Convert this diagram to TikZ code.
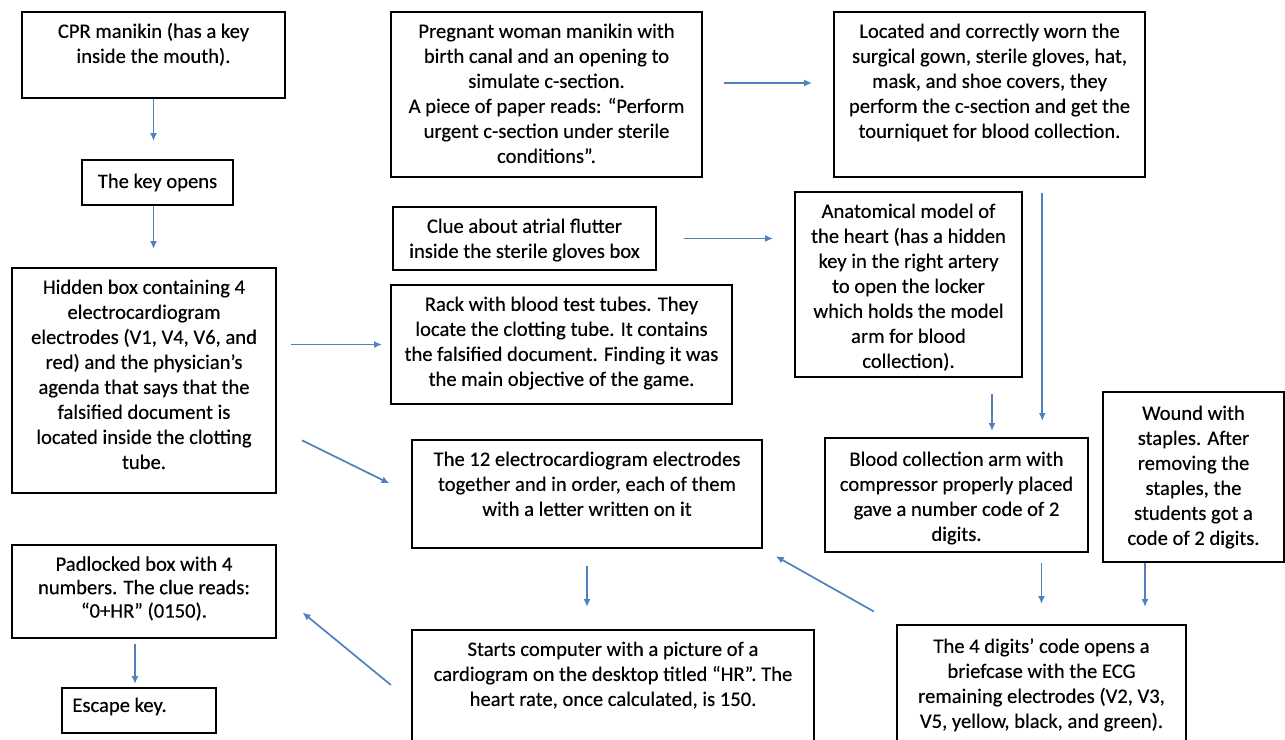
\documentclass[tikz,border=0pt]{standalone}
\usepackage{fontspec}
\setmainfont[BoldFont=Carlito,BoldFeatures={FakeBold=0.3}]{Carlito}
\usepackage{xcolor}
\definecolor{arrblue}{RGB}{79,129,189}
\usetikzlibrary{arrows.meta}
\tikzset{
card/.style={draw,line width=1pt,inner sep=0pt,font=\fontsize{10.3}{12.5}\selectfont\bfseries},
cardtext/.style={anchor=north,align=center,inner sep=0pt,yshift=-4.5pt,font=\fontsize{10.3}{12.5}\selectfont\bfseries},
flow/.style={arrblue,line width=0.85pt,-{Latex[length=4pt,width=3.5pt]}}
}

\begin{document}
\begin{tikzpicture}[x=0.5pt,y=-0.5pt]
\useasboundingbox (0,0) rectangle (1285,739);
\node[card,minimum width=131.5pt,minimum height=43pt,label={[cardtext]north:{\strut CPR manikin (has a key\\inside the mouth).}}] (cpr) at (153.5,55) {};
\node[card,minimum width=75.5pt,minimum height=22.5pt] (keyopens) at (157.5,182.5) {The key opens};
\node[card,minimum width=132pt,minimum height=112.5pt,label={[cardtext]north:{\strut Hidden box containing 4\\electrocardiogram\\electrodes (V1, V4, V6, and\\red) and the physician’s\\agenda that says that the\\falsified document is\\located inside the clotting\\tube.}}] (hidden) at (144,380.5) {};
\node[card,minimum width=132pt,minimum height=46.5pt,label={[cardtext,font=\fontsize{10.3}{11.7}\selectfont\bfseries,yshift=-0.5pt]north:{\strut Padlocked box with 4\\numbers. The clue reads:\\“0+HR” (0150).}}] (padlock) at (144,591.5) {};
\node[card,minimum width=77pt,minimum height=22.5pt,label={[cardtext,anchor=north west,xshift=5.5pt,yshift=1pt]north west:{\strut Escape key.}}] (escape) at (139,710.5) {};
\node[card,minimum width=155.5pt,minimum height=82.5pt,label={[cardtext]north:{\strut Pregnant woman manikin with\\birth canal and an opening to\\simulate c-section.\\A piece of paper reads: “Perform\\urgent c-section under sterile\\conditions”.}}] (pregnant) at (546.5,94.5) {};
\node[card,minimum width=131.5pt,minimum height=31.5pt,label={[cardtext]north:{\strut Clue about atrial flutter\\inside the sterile gloves box}}] (cluebox) at (524.5,238.5) {};
\node[card,minimum width=170.5pt,minimum height=59.5pt,label={[cardtext]north:{\strut Rack with blood test tubes. They\\locate the clotting tube. It contains\\the falsified document. Finding it was\\the main objective of the game.}}] (rack) at (561.5,344.5) {};
\node[card,minimum width=175pt,minimum height=54pt,label={[cardtext]north:{\strut The 12 electrocardiogram electrodes\\together and in order, each of them\\with a letter written on it}}] (twelve) at (587,494) {};
\node[card,minimum width=201pt,minimum height=59pt,label={[cardtext]north:{\strut Starts computer with a picture of a\\cardiogram on the desktop titled “HR”. The\\heart rate, once calculated, is 150.}}] (computer) at (613,689) {};
\node[card,minimum width=155.5pt,minimum height=82.5pt,label={[cardtext]north:{\strut Located and correctly worn the\\surgical gown, sterile gloves, hat,\\mask, and shoe covers, they\\perform the c-section and get the\\tourniquet for blood collection.}}] (located) at (989.5,94.5) {};
\node[card,minimum width=113.5pt,minimum height=92.5pt,label={[cardtext]north:{\strut Anatomical model of\\the heart (has a hidden\\key in the right artery\\to open the locker\\which holds the model\\arm for blood\\collection).}}] (anatomy) at (908.5,284.5) {};
\node[card,minimum width=131.5pt,minimum height=57pt,label={[cardtext,yshift=-1pt]north:{\strut Blood collection arm with\\compressor properly placed\\gave a number code of 2\\digits.}}] (bloodarm) at (956.5,495) {};
\node[card,minimum width=90.5pt,minimum height=85pt,label={[cardtext,yshift=-1pt]north:{\strut Wound with\\staples. After\\removing the\\staples, the\\students got a\\code of 2 digits.}}] (wound) at (1193.5,477) {};
\node[card,minimum width=144.5pt,minimum height=61.5pt,label={[cardtext,yshift=-1pt]north:{\strut The 4 digits’ code opens a\\briefcase with the ECG\\remaining electrodes (V2, V3,\\V5, yellow, black, and green).}}] (fourdigits) at (1041.5,686.5) {};
\draw[flow,shorten >=9pt] (cpr.south) -- (cpr.south |- keyopens.north);
\draw[flow,shorten >=9pt] (cpr.south |- keyopens.south) -- (cpr.south |- hidden.north);
\draw[flow,shorten <=7pt,shorten >=4pt] (hidden.east |- rack.west) -- (rack.west);
\draw[flow,shorten <=14pt,shorten >=12pt] ([yshift=33pt]hidden.south east) -- (twelve.west);
\draw[flow,shorten <=2.5pt,shorten >=1.5pt] ([xshift=-4.5pt]padlock.south) -- ([xshift=-4.5pt]padlock.south |- escape.north);
\draw[flow,shorten <=8.5pt,shorten >=11pt] (twelve.south) -- (twelve.south |- computer.north);
\draw[flow,shorten <=13pt,shorten >=16.5pt] ([yshift=-6.25pt]computer.west) -- (padlock.east);
\draw[flow,shorten <=10.5pt,shorten >=10.5pt] ([yshift=5.75pt]pregnant.east) -- ([yshift=5.75pt]located.west);
\draw[flow,shorten <=13.5pt,shorten >=10.5pt] (cluebox.east) -- (cluebox.east -| anatomy.west);
\draw[flow,shorten <=8pt,shorten >=3pt] ([xshift=-15.5pt]anatomy.south east) -- ([xshift=-15.5pt]anatomy.south east |- bloodarm.north);
\draw[flow,shorten <=7.5pt,shorten >=8pt] ([xshift=26.4pt]located.south) -- ([xshift=26.4pt]located.south |- bloodarm.north);
\draw[flow,shorten <=5pt,shorten >=10pt] (fourdigits.north |- bloodarm.south) -- (fourdigits.north);
\draw[flow,shorten >=8.5pt] ([xshift=-24.25pt]wound.south) -- ([xshift=-24.25pt]wound.south |- fourdigits.north);
\draw[flow,shorten <=12.8pt,shorten >=7.3pt] (fourdigits.north west) -- (twelve.south east);
\end{tikzpicture}
\end{document}
